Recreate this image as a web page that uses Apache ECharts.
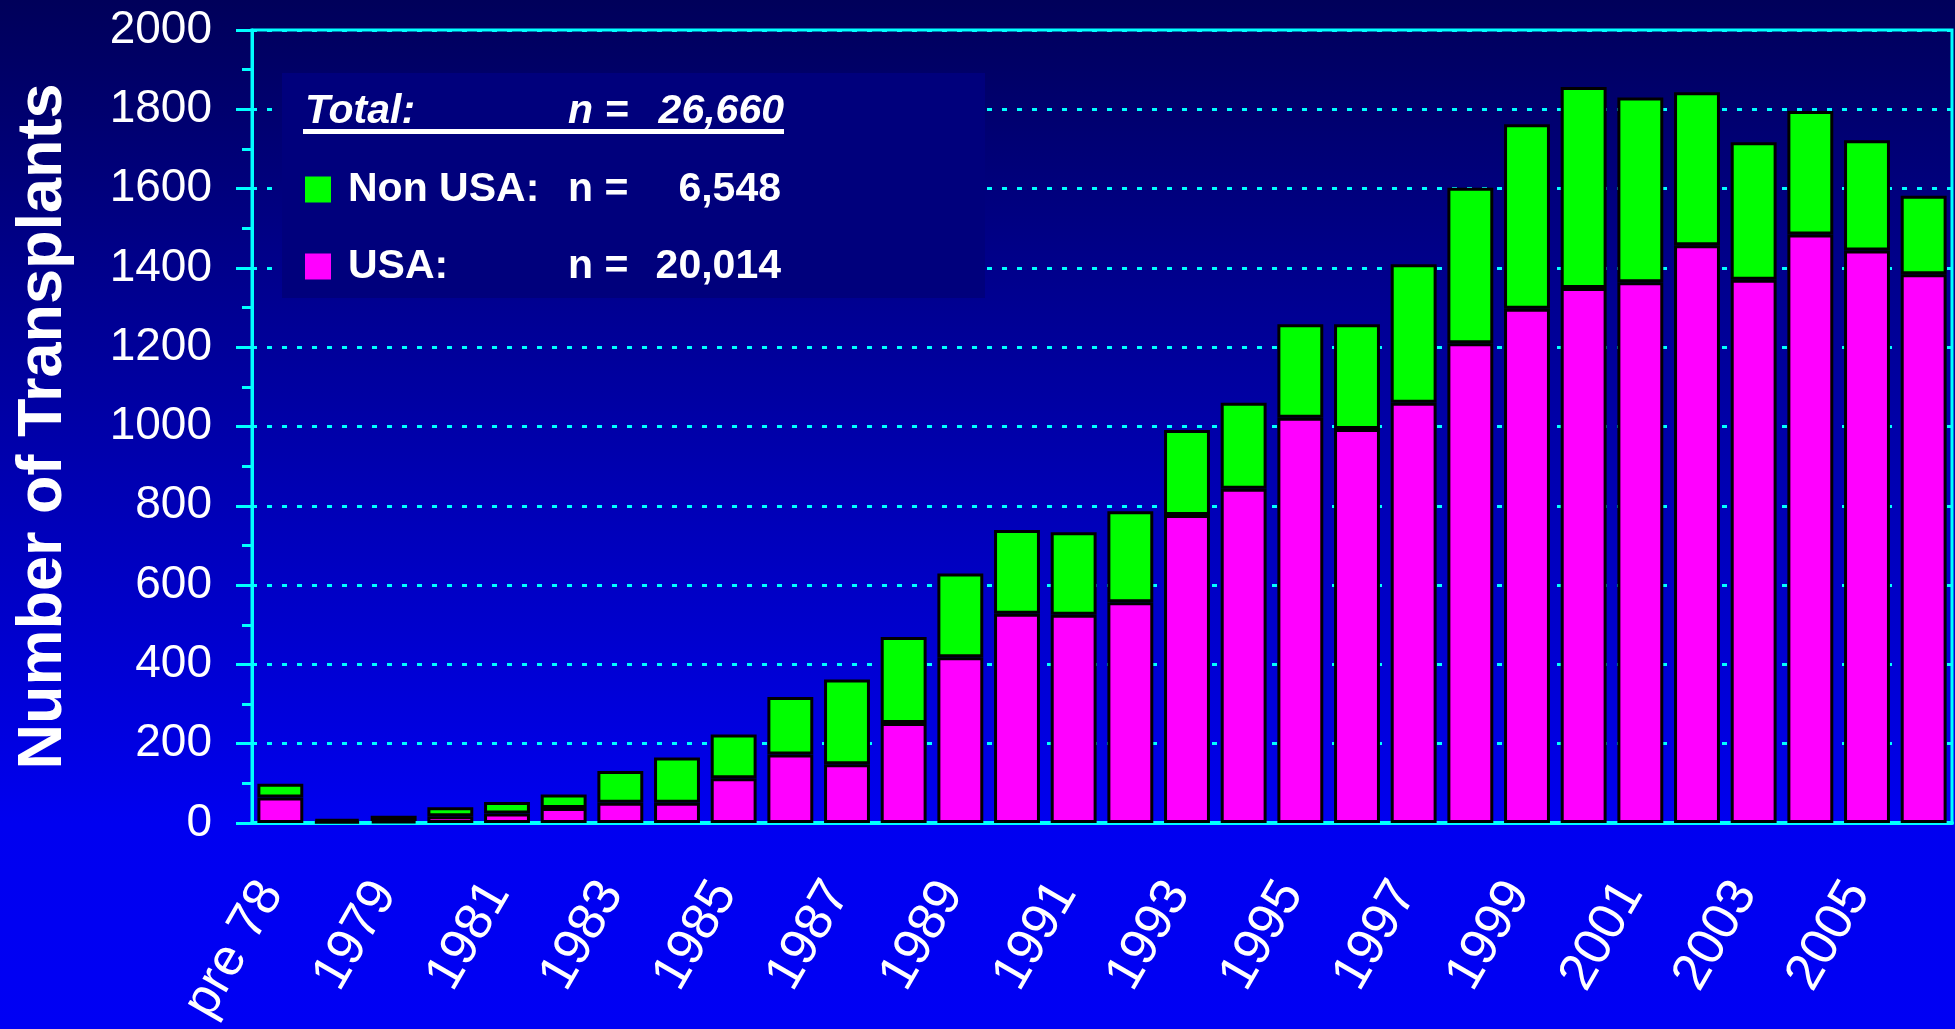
<!DOCTYPE html>
<html>
<head>
<meta charset="utf-8">
<title>Number of Transplants</title>
<script src="https://cdn.jsdelivr.net/npm/echarts@6/dist/echarts.min.js"></script>
<style>
  html, body { margin: 0; padding: 0; }
  #main { width: 1955px; height: 1029px; }
</style>
</head>
<body>
<div id="main"></div>
<script>
// categories (x axis)
var years = ['pre 78', '1978', '1979', '1980', '1981', '1982', '1983', '1984', '1985', '1986',
  '1987', '1988', '1989', '1990', '1991', '1992', '1993', '1994', '1995', '1996',
  '1997', '1998', '1999', '2000', '2001', '2002', '2003', '2004', '2005', '2006'];

// USA transplants (magenta, bottom of stack)
var usa = [64, 4, 5, 17, 24, 38, 51, 51, 113, 173,
  148, 252, 418, 528, 525, 557, 777, 843, 1022, 994,
  1060, 1210, 1297, 1349, 1364, 1457, 1370, 1484, 1444, 1384];

// Non USA transplants (green, top of stack)
var nonUsa = [35, 6, 13, 23, 29, 34, 80, 114, 110, 145,
  214, 217, 211, 211, 208, 229, 214, 217, 236, 264,
  349, 392, 465, 507, 466, 386, 347, 312, 278, 198];

// legend box numbers
var totalN = '26,660';
var nonUsaN = '6,548';
var usaN = '20,014';

var FONT = '"Liberation Sans", Arial, sans-serif';

var chart = echarts.init(document.getElementById('main'));

var option = {
  animation: false,
  backgroundColor: new echarts.graphic.LinearGradient(0, 0, 0, 1, [
    { offset: 0, color: '#00005a' },
    { offset: 0.8, color: '#0000f0' },
    { offset: 1, color: '#0000f4' }
  ]),
  textStyle: { fontFamily: FONT },
  grid: {
    left: 252, right: 3, top: 30, bottom: 206,
    show: true, borderColor: '#00ffff', borderWidth: 3
  },
  legend: {
    data: ['Non USA', 'USA'],
    orient: 'vertical',
    left: 305, top: 169,
    padding: 0,
    itemWidth: 26, itemHeight: 26,
    itemGap: 36,
    icon: 'rect',
    itemStyle: { borderWidth: 0 },
    textStyle: {
      color: '#fff', fontSize: 41, fontWeight: 'bold', lineHeight: 41,
      rich: {
        a: { color: '#fff', fontSize: 41, fontWeight: 'bold', padding: [0, 0, 0, 12], width: 220 },
        b: { color: '#fff', fontSize: 41, fontWeight: 'bold', width: 83 },
        c: { color: '#fff', fontSize: 41, fontWeight: 'bold', width: 130, align: 'right' }
      }
    },
    formatter: function (name) {
      var n = name === 'USA' ? usaN : nonUsaN;
      return '{a|' + name + ':}{b|n =}{c|' + n + '}';
    }
  },
  xAxis: {
    type: 'category',
    data: years,
    axisLine: { lineStyle: { color: '#00ffff', width: 4 } },
    axisTick: { show: false },
    axisLabel: {
      color: '#fff', fontSize: 52, rotate: 60, interval: 1, margin: 47,
      align: 'right', verticalAlign: 'middle', padding: [0, 18, 0, 0]
    }
  },
  yAxis: {
    type: 'value',
    min: 0, max: 2000, interval: 200,
    name: 'Number of Transplants',
    nameLocation: 'middle',
    nameGap: 177,
    nameTextStyle: { color: '#fff', fontSize: 63, fontWeight: 'bold' },
    axisLine: { show: true, lineStyle: { color: '#00ffff', width: 3 } },
    axisTick: { show: true, length: 16, lineStyle: { color: '#00ffff', width: 3 } },
    minorTick: { show: true, splitNumber: 2, length: 10, lineStyle: { color: '#00ffff', width: 3 } },
    splitLine: { show: true, lineStyle: { color: '#00ffff', width: 3, type: [5, 10] } },
    axisLabel: {
      color: '#fff', fontSize: 46, margin: 40,
      formatter: function (v) { return String(v); }
    }
  },
  graphic: [
    { type: 'rect', z: 1, shape: { x: 282, y: 73, width: 703, height: 225 }, style: { fill: '#00007c' } },
    { type: 'text', z: 5, x: 305, y: 112, style: { text: 'Total:', fill: '#fff', fontFamily: FONT, fontSize: 41, fontWeight: 'bold', fontStyle: 'italic', verticalAlign: 'middle' } },
    { type: 'text', z: 5, x: 568, y: 112, style: { text: 'n =', fill: '#fff', fontFamily: FONT, fontSize: 41, fontWeight: 'bold', fontStyle: 'italic', verticalAlign: 'middle' } },
    { type: 'text', z: 5, x: 784, y: 112, style: { text: totalN, fill: '#fff', fontFamily: FONT, fontSize: 41, fontWeight: 'bold', fontStyle: 'italic', align: 'right', verticalAlign: 'middle' } },
    { type: 'rect', z: 5, shape: { x: 303, y: 129, width: 481, height: 5 }, style: { fill: '#fff' } }
  ],
  series: [
    {
      name: 'USA', type: 'bar', stack: 'total', data: usa,
      barCategoryGap: '19%',
      itemStyle: { color: '#ff00ff', borderColor: '#000', borderWidth: 3 }
    },
    {
      name: 'Non USA', type: 'bar', stack: 'total', data: nonUsa,
      itemStyle: { color: '#00ff00', borderColor: '#000', borderWidth: 3 }
    }
  ]
};

chart.setOption(option);
</script>
</body>
</html>
